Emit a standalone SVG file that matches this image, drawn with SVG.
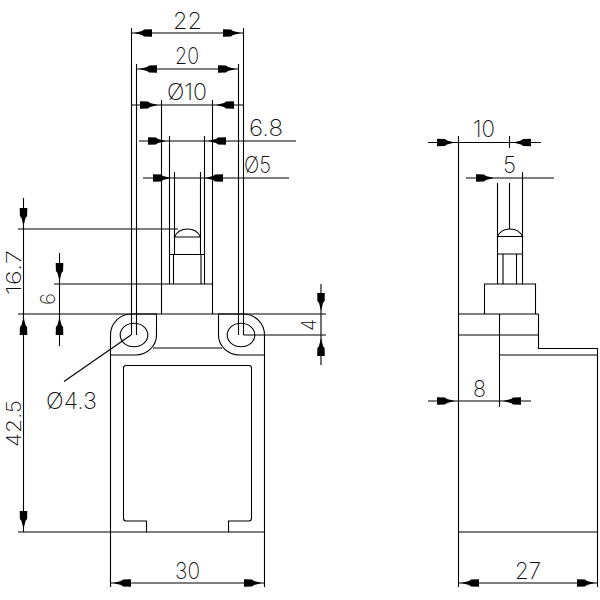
<svg xmlns="http://www.w3.org/2000/svg" xmlns:xlink="http://www.w3.org/1999/xlink" width="600" height="600" viewBox="0 0 600 600">
<style>
.l{fill:none;stroke:#000;stroke-width:1.1}
.t{font-family:Inter,"Liberation Sans",Arial,sans-serif;font-size:23px;font-weight:200;fill:#111}
.r{font-size:20.500px}
</style>
<defs>
<path id="a" d="M0,0 L-8,-2 L-10,-3.600 L-18,-3.800 L-18,3.800 L-10,3.600 L-8,2 Z" fill="#000"/>
</defs>
<rect width="600" height="600" fill="#fff"/>
<g id="front-view" class="l">
<path d="M110.5,532 V335 A21,21 0 0 1 131.5,314 H156.5 V335 A21,20 0 0 1 135.500,355 H110.500"/>
<path d="M264.5,532 V335 A21,21 0 0 0 243.500,314 H218.500 V335 A21,20 0 0 0 239.500,355 H264.500"/>
<path d="M153,348 H222"/>
<ellipse cx="134" cy="335" rx="13.800" ry="11.800"/>
<ellipse cx="241" cy="335" rx="13.800" ry="11.800"/>
<path d="M146.500,532 V521 H126 Q123.500,521 123.500,518 V368 Q123.500,365.500 126,365.500 H249 Q251.500,365.500 251.500,368 V518 Q251.500,521 249,521 H228.500 V532"/>
<path d="M174.500,237 Q178,229 187.500,229 Q197,229 200.500,237 Z"/>
<path d="M169.500,254.500 H204.500 M173.500,254.500 V284 M201,254.500 V284"/>
</g>
<g id="side-view" class="l">
<path d="M458.500,136 V587 M597.500,587 V348.500 H538.500 V314 M458.500,314 H538.500 M458.500,335 H538.500 M499.500,314 V407 M499.500,355 H597.500 M458.500,532 H597.500"/>
<path d="M484.500,314 V284 H535.500 V314"/>
<path d="M497.500,183 V284 M522.500,172 V284 M509.500,183 V229 M497.500,254 H522.500 M503,254 V284 M516.500,254 V284"/>
<path d="M497.500,236.500 Q501,229 510,229 Q519,229 522.500,236.500 Z"/>
</g>
<g id="connectors" class="l">
<path d="M131.500,28 V335 M243.500,28 V335 M136.500,64 V335 M238.500,64 V335 M161.500,100 V314 M212.500,100 V314 M169.500,136 V284 M204.500,136 V284 M174.500,172 V254.500 M200.500,172 V254.500"/>
<path d="M131.500,33 H243.500 M136.500,69 H238.500 M131.500,105 H243.500 M139,141 H296 M143,178 H289"/>
<path d="M18,229 H178 M54,284 H212.500 M18,314 H326 M18,532 H264.500 M243.500,335 H326"/>
<path d="M23.500,198 V532 M59.500,253 V346 M321,284 V365"/>
<path d="M110.500,532 V587 M264.500,532 V587 M110.500,583 H264.500 M458.500,583 H597.500"/>
<path d="M64,381.500 L131,335"/>
<path d="M428,142.500 H541 M509.500,136 V148 M466,178 H554 M428,401 H531"/>
</g>
<g id="arrowheads">
<use xlink:href="#a" transform="translate(134,33) rotate(180)"/>
<use xlink:href="#a" transform="translate(241,33)"/>
<use xlink:href="#a" transform="translate(139,69) rotate(180)"/>
<use xlink:href="#a" transform="translate(236,69)"/>
<use xlink:href="#a" transform="translate(158,105)"/>
<use xlink:href="#a" transform="translate(216,105) rotate(180)"/>
<use xlink:href="#a" transform="translate(166,141)"/>
<use xlink:href="#a" transform="translate(208,141) rotate(180)"/>
<use xlink:href="#a" transform="translate(171,178)"/>
<use xlink:href="#a" transform="translate(205,178) rotate(180)"/>
<use xlink:href="#a" transform="translate(23.500,226) rotate(90)"/>
<use xlink:href="#a" transform="translate(23.500,317) rotate(-90)"/>
<use xlink:href="#a" transform="translate(23.500,529) rotate(90)"/>
<use xlink:href="#a" transform="translate(59.500,281) rotate(90)"/>
<use xlink:href="#a" transform="translate(59.500,317) rotate(-90)"/>
<use xlink:href="#a" transform="translate(321,311) rotate(90)"/>
<use xlink:href="#a" transform="translate(321,338) rotate(-90)"/>
<use xlink:href="#a" transform="translate(113,583) rotate(180)"/>
<use xlink:href="#a" transform="translate(262,583)"/>
<use xlink:href="#a" transform="translate(455,142.500)"/>
<use xlink:href="#a" transform="translate(513,142.500) rotate(180)"/>
<use xlink:href="#a" transform="translate(494,178)"/>
<use xlink:href="#a" transform="translate(455,401)"/>
<use xlink:href="#a" transform="translate(503,401) rotate(180)"/>
<use xlink:href="#a" transform="translate(461,583) rotate(180)"/>
<use xlink:href="#a" transform="translate(595,583)"/>
</g>
<g id="labels" class="t">
<text x="173" y="29" textLength="29" lengthAdjust="spacingAndGlyphs">22</text>
<text x="175" y="64" textLength="24" lengthAdjust="spacingAndGlyphs">20</text>
<text x="167" y="100" textLength="40" lengthAdjust="spacingAndGlyphs">Ø10</text>
<text x="249" y="136" textLength="34" lengthAdjust="spacingAndGlyphs">6.8</text>
<text x="244" y="173" textLength="27" lengthAdjust="spacingAndGlyphs">Ø5</text>
<text x="473" y="137" textLength="22" lengthAdjust="spacingAndGlyphs">10</text>
<text x="503" y="173" textLength="13" lengthAdjust="spacingAndGlyphs">5</text>
<text x="46" y="409" textLength="51" lengthAdjust="spacingAndGlyphs">Ø4.3</text>
<text x="473" y="397" textLength="13" lengthAdjust="spacingAndGlyphs">8</text>
<text x="175" y="579" textLength="25" lengthAdjust="spacingAndGlyphs">30</text>
<text x="515" y="579" textLength="26" lengthAdjust="spacingAndGlyphs">27</text>
<text class="r" transform="translate(20.500,295) rotate(-90)" textLength="45" lengthAdjust="spacingAndGlyphs">16.7</text>
<text class="r" transform="translate(55,305) rotate(-90)" textLength="12" lengthAdjust="spacingAndGlyphs">6</text>
<text class="r" transform="translate(20.500,447) rotate(-90)" textLength="47" lengthAdjust="spacingAndGlyphs">42.5</text>
<text class="r" transform="translate(316,331) rotate(-90)" textLength="12" lengthAdjust="spacingAndGlyphs">4</text>
</g>
</svg>
